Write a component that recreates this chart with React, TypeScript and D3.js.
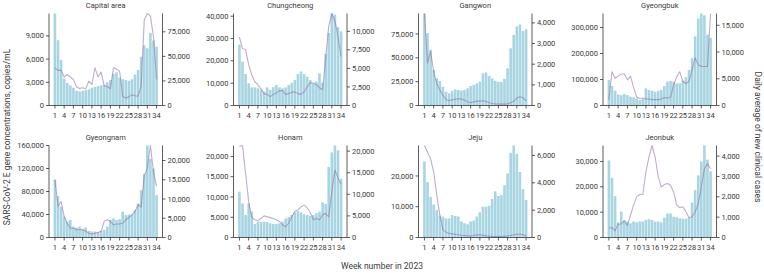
import React from "react";
import * as d3 from "d3";

const weeks: number[] = d3.range(1, 35);
const weekTicks: number[] = [1, 4, 7, 10, 13, 16, 19, 22, 25, 28, 31, 34];

const regions: string[] = ["Capital area", "Chungcheong", "Gangwon", "Gyeongbuk", "Gyeongnam", "Honam", "Jeju", "Jeonbuk"];

// SARS-CoV-2 E gene concentrations (bars, left axis)
const capitalConc = [11900, 8450, 5900, 3500, 2900, 2600, 2300, 1900, 1800, 1900, 2000, 2100, 2300, 2400, 2500, 2600, 2700, 3000, 3300, 4100, 4300, 3600, 3400, 3300, 3200, 3400, 4000, 4600, 6300, 7800, 7400, 9400, 8400, 7600];
const chungConc = [27200, 19700, 14100, 9900, 8100, 8100, 7700, 7000, 6200, 8100, 7000, 8200, 9200, 8100, 7700, 8100, 9200, 10200, 11400, 14100, 15200, 14100, 12900, 11400, 9900, 10700, 14400, 10200, 23200, 32500, 41200, 40700, 35200, 33200];
const gangwonConc = [96500, 76000, 58500, 37300, 28500, 25700, 19700, 14400, 12700, 15500, 16900, 16200, 15500, 16200, 18000, 20400, 21500, 23200, 25000, 33800, 34500, 31000, 28500, 26000, 25000, 24600, 28000, 39000, 60000, 74000, 83000, 85000, 78000, 80000];
const gyeongbukConc = [98000, 75000, 57000, 43000, 40000, 44000, 40000, 34000, 31000, 27000, 21000, 25000, 66000, 60000, 57000, 53000, 57000, 60000, 75000, 92000, 94000, 92000, 85000, 85000, 96000, 109000, 137000, 182000, 266000, 334000, 354000, 347000, 273000, 260000];
const gyeongnamConc = [100700, 72000, 53500, 36000, 27600, 30500, 19000, 17300, 19000, 15000, 17300, 11500, 10400, 10400, 9200, 11500, 13200, 19000, 30500, 33400, 30500, 31600, 45000, 39000, 40000, 40000, 47800, 59300, 82300, 111000, 160000, 137000, 120000, 73700];
const honamConc = [11300, 8400, 5550, 8400, 6400, 3300, 3900, 3800, 3900, 3800, 3500, 3350, 3300, 3500, 3900, 4700, 5100, 5550, 6200, 6500, 6200, 5700, 5550, 5300, 5550, 6000, 6400, 8650, 8300, 17400, 21000, 22700, 21500, 14500];
const jejuConc = [24700, 18000, 13200, 10750, 8900, 7100, 6800, 6200, 6200, 7300, 7000, 6800, 5200, 4600, 4300, 5200, 5500, 6800, 8200, 10000, 10000, 10300, 12500, 15000, 13500, 13800, 17000, 20800, 27500, 29900, 27200, 21300, 15700, 12200];
const jeonbukConc = [30400, 23500, 16300, 6000, 10200, 6900, 6300, 5600, 6300, 6000, 6300, 6300, 6900, 7200, 6900, 6300, 6300, 6000, 7800, 9500, 9500, 8200, 8000, 7600, 7400, 7400, 7800, 13800, 18700, 24500, 30000, 36300, 30700, 26100];

// Daily average of new clinical cases (line, right axis)
const capitalCases = [38300, 35600, 36000, 29000, 31500, 29000, 26500, 19000, 17300, 18000, 17000, 24800, 21400, 38300, 29000, 34000, 20000, 19000, 17000, 38300, 37000, 35000, 9500, 7500, 8800, 11000, 10000, 9500, 20000, 87000, 93600, 91000, 70000, 26500];
const chungCases = [9200, 7700, 7500, 5500, 4100, 3200, 2800, 2200, 1600, 1500, 1200, 1500, 1700, 2000, 2000, 1500, 1600, 1800, 1800, 1600, 1500, 1850, 2500, 3100, 3000, 2800, 2400, 2100, 6400, 10700, 12400, 11400, 9300, 6600];
const gangwonCases = [4455, 2050, 2620, 1640, 1070, 750, 500, 290, 230, 280, 310, 325, 310, 260, 180, 130, 180, 210, 210, 230, 195, 130, 100, 80, 65, 65, 65, 80, 130, 210, 360, 420, 375, 230];
const gyeongbukCases = [1100, 6300, 5100, 5500, 5900, 5900, 4800, 5500, 3400, 1600, 1300, 1400, 1200, 1200, 1100, 1100, 1100, 1200, 1500, 1400, 1500, 3800, 5400, 6300, 4500, 4100, 4500, 6700, 8900, 7600, 7300, 7300, 7300, 17200];
const gyeongnamCases = [15000, 8050, 9350, 5450, 3700, 2400, 2400, 2000, 2000, 2000, 1600, 1100, 900, 1100, 1300, 1600, 4200, 4600, 4200, 3300, 3500, 3500, 3700, 4600, 5200, 5900, 6750, 8500, 7900, 16000, 18000, 23900, 17000, 13300];
const honamCases = [21100, 21300, 14800, 8300, 4600, 4100, 3900, 4400, 5000, 4800, 4600, 4400, 4100, 3700, 2900, 2500, 3300, 4800, 6000, 6400, 7100, 7500, 6900, 5800, 4100, 4400, 4100, 5200, 5600, 4800, 10600, 15600, 13800, 12300];
const jejuCases = [6730, 6240, 5760, 4800, 3100, 1650, 560, 390, 315, 265, 240, 195, 145, 145, 120, 120, 145, 195, 195, 170, 120, 100, 75, 75, 75, 75, 100, 120, 145, 195, 240, 240, 195, 120];
const jeonbukCases = [455, 490, 325, 650, 665, 810, 585, 1105, 1590, 1995, 2110, 2110, 3220, 3950, 4520, 3950, 2980, 2490, 2600, 2650, 2570, 2240, 1590, 1460, 1510, 1270, 975, 1020, 1240, 1680, 2490, 3380, 3630, 3380];

const concSeries: number[][] = [capitalConc, chungConc, gangwonConc, gyeongbukConc, gyeongnamConc, honamConc, jejuConc, jeonbukConc];
const caseSeries: number[][] = [capitalCases, chungCases, gangwonCases, gyeongbukCases, gyeongnamCases, honamCases, jejuCases, jeonbukCases];

const leftTicks: number[][] = [
  [0, 3000, 6000, 9000],
  [0, 10000, 20000, 30000, 40000],
  [0, 25000, 50000, 75000],
  [0, 100000, 200000, 300000],
  [0, 40000, 80000, 120000, 160000],
  [0, 5000, 10000, 15000, 20000],
  [0, 10000, 20000],
  [0, 10000, 20000, 30000],
];
const rightTicks: number[][] = [
  [0, 25000, 50000, 75000],
  [0, 2500, 5000, 7500, 10000],
  [0, 1000, 2000, 3000, 4000],
  [0, 5000, 10000, 15000],
  [0, 5000, 10000, 15000, 20000],
  [0, 5000, 10000, 15000, 20000],
  [0, 2000, 4000, 6000],
  [0, 1000, 2000, 3000, 4000],
];

const W = 764;
const H = 273;
const FONT = "Roboto, 'Liberation Sans', Arial, sans-serif";
const TEXT = "#3a3a3a";
const AXIS = "#333";
const BAR = "#a8d5e2";
const LINE = "rgb(140,105,155)";

const panelLeft = [49, 233.5, 418.5, 603];
const panelWidth = 113.5;
const rowTop = [13.5, 145.5];
const rowBottom = [105.5, 237.5];

const fmt = d3.format(",");

function Panel({ idx }: { idx: number }) {
  const col = idx % 4;
  const row = Math.floor(idx / 4);
  const x0 = panelLeft[col];
  const x1 = x0 + panelWidth;
  const yTop = rowTop[row];
  const yBot = rowBottom[row];
  const conc = concSeries[idx];
  const cases = caseSeries[idx];

  const x = d3.scaleBand<number>().domain(weeks).range([x0, x1]).paddingInner(0.15).paddingOuter(1.5);
  const yL = d3.scaleLinear().domain([0, d3.max(conc) as number]).range([yBot, yTop]);
  const yR = d3.scaleLinear().domain([0, d3.max(cases) as number]).range([yBot, yTop]);
  const cx = (w: number) => (x(w) as number) + x.bandwidth() / 2;

  const line = d3
    .line<number>()
    .x((_, i) => cx(weeks[i]))
    .y((d) => yR(d));

  return (
    <g>
      <text x={(x0 + x1) / 2} y={yTop - 5.5} textAnchor="middle" fontSize={7.5} fill={TEXT} fontFamily={FONT}>
        {regions[idx]}
      </text>
      {conc.map((v, i) => (
        <rect key={i} x={x(weeks[i])} y={yL(v)} width={x.bandwidth()} height={yBot - yL(v)} fill={BAR} />
      ))}
      <path d={line(cases) || ""} fill="none" stroke={LINE} strokeOpacity={0.55} strokeWidth={1.1} strokeLinejoin="round" />
      {/* left axis */}
      <line x1={x0} x2={x0} y1={yTop} y2={yBot} stroke={AXIS} strokeWidth={0.8} />
      {leftTicks[idx].map((t) => (
        <g key={"l" + t}>
          <line x1={x0 - 3} x2={x0} y1={yL(t)} y2={yL(t)} stroke={AXIS} strokeWidth={0.8} />
          <text x={x0 - 5} y={yL(t)} dy="0.34em" textAnchor="end" fontSize={7.5} fill={TEXT} fontFamily={FONT}>
            {fmt(t)}
          </text>
        </g>
      ))}
      {/* right axis */}
      <line x1={x1} x2={x1} y1={yTop} y2={yBot} stroke={AXIS} strokeWidth={0.8} />
      {rightTicks[idx].map((t) => (
        <g key={"r" + t}>
          <line x1={x1} x2={x1 + 3} y1={yR(t)} y2={yR(t)} stroke={AXIS} strokeWidth={0.8} />
          <text x={x1 + 5} y={yR(t)} dy="0.34em" textAnchor="start" fontSize={7.5} fill={TEXT} fontFamily={FONT}>
            {fmt(t)}
          </text>
        </g>
      ))}
      {/* bottom axis */}
      <line x1={x0} x2={x1} y1={yBot} y2={yBot} stroke={AXIS} strokeWidth={0.8} />
      {weekTicks.map((w) => (
        <g key={"b" + w}>
          <line x1={cx(w)} x2={cx(w)} y1={yBot} y2={yBot + 3} stroke={AXIS} strokeWidth={0.8} />
          <text x={cx(w)} y={yBot + 12.5} textAnchor="middle" fontSize={7.5} fill={TEXT} fontFamily={FONT}>
            {w}
          </text>
        </g>
      ))}
    </g>
  );
}

export default function App() {
  return (
    <svg width={W} height={H} style={{ position: "absolute", left: 0, top: 0, background: "#fff" }}>
      {regions.map((_, i) => (
        <Panel key={i} idx={i} />
      ))}
      <text x={382} y={269} textAnchor="middle" fontSize={8.5} fill={TEXT} fontFamily={FONT}>
        Week number in 2023
      </text>
      <text transform="translate(10,137) rotate(-90)" textAnchor="middle" fontSize={8.5} fill={TEXT} fontFamily={FONT}>
        SARS-CoV-2 E gene concentrations, copies/mL
      </text>
      <text transform="translate(755,137) rotate(90)" textAnchor="middle" fontSize={8.5} fill={TEXT} fontFamily={FONT}>
        Daily average of new clinical cases
      </text>
    </svg>
  );
}
